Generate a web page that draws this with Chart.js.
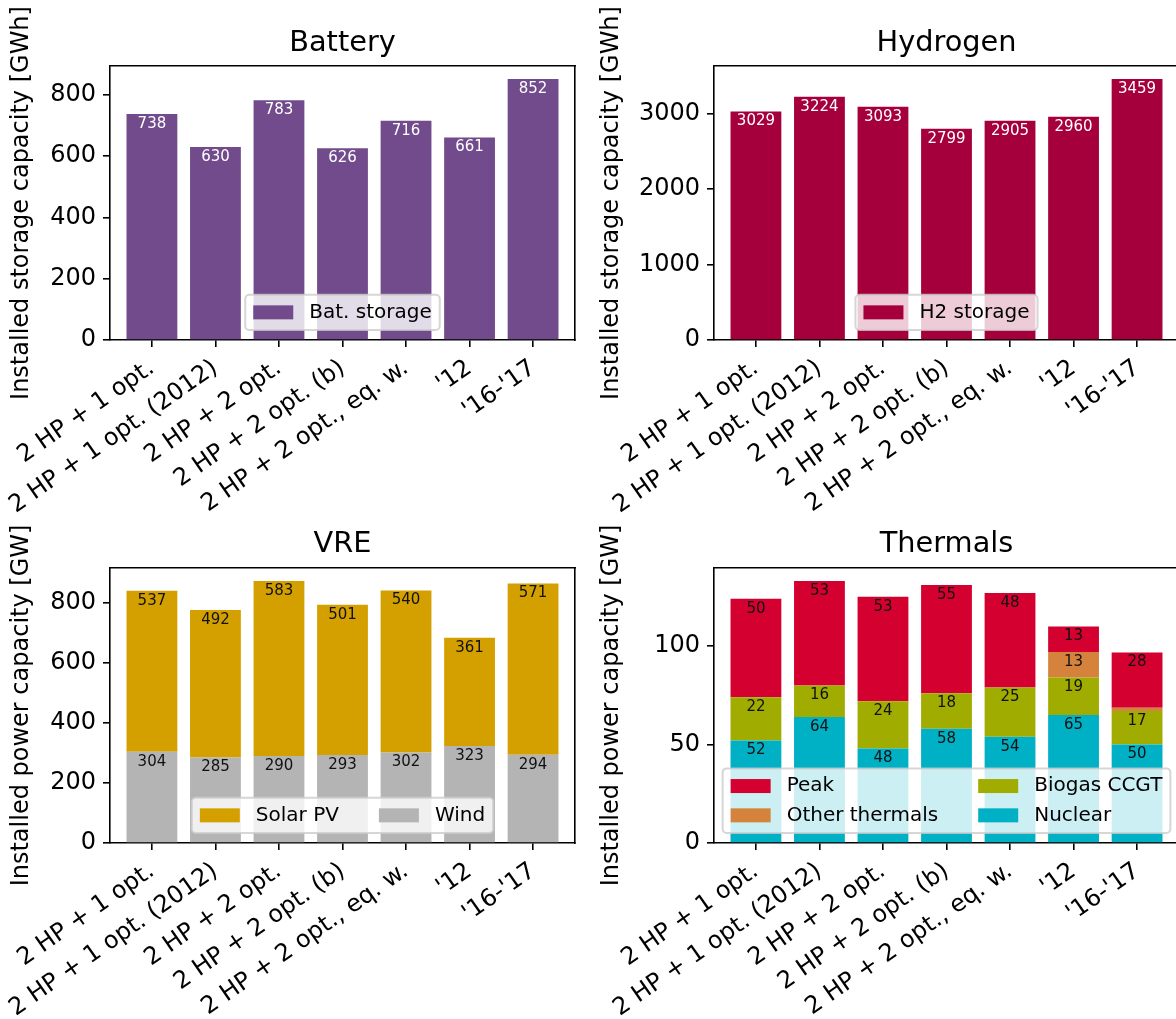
<!DOCTYPE html>
<html>
<head>
<meta charset="utf-8">
<script src="https://cdn.jsdelivr.net/npm/chart.js@4.4.0/dist/chart.umd.min.js"></script>
<style>
  html, body { margin: 0; padding: 0; background: #fff; overflow: hidden; width: 1176px; height: 1019px; }
  canvas { position: absolute; }
</style>
</head>
<body>
<canvas id="batteryChart" width="590" height="520" style="left:0px;top:0px"></canvas>
<canvas id="hydrogenChart" width="600" height="520" style="left:590px;top:0px"></canvas>
<canvas id="vreChart" width="590" height="519" style="left:0px;top:500px"></canvas>
<canvas id="thermalChart" width="600" height="519" style="left:590px;top:500px"></canvas>
<script>
// scenario names on the x axis
const scenarios = ["2 HP + 1 opt.", "2 HP + 1 opt. (2012)", "2 HP + 2 opt.", "2 HP + 2 opt. (b)",
  "2 HP + 2 opt., eq. w.", "'12", "'16-'17"];

// storage capacity [GWh]
const batStorage = [738, 630, 783, 626, 716, 661, 852];
const h2Storage = [3029, 3224, 3093, 2799, 2905, 2960, 3459];

// VRE capacity [GW]
const wind = [304, 285, 290, 293, 302, 323, 294];
const solarPV = [537, 492, 583, 501, 540, 361, 571];

// thermal capacity [GW]
const nuclear = [52, 64, 48, 58, 54, 65, 50];
const biogasCCGT = [22, 16, 24, 18, 25, 19, 17];
const otherThermals = [0, 0, 0, 0, 0, 13, 1.7];
const peak = [50, 53, 53, 55, 48, 13, 28];

// y tick values
const batTicks = [0, 200, 400, 600, 800];
const h2Ticks = [0, 1000, 2000, 3000];
const vreTicks = [0, 200, 400, 600, 800];
const thermalTicks = [0, 50, 100];

Chart.defaults.font.family = "'DejaVu Sans', sans-serif";
Chart.defaults.color = "#000";

// numbers written inside the bars, just under the top of each segment
const barLabels = {
  id: "barLabels",
  afterDatasetsDraw(chart, args, opts) {
    const ctx = chart.ctx;
    ctx.save();
    ctx.font = "15px 'DejaVu Sans'";
    ctx.fillStyle = opts.color;
    ctx.textAlign = "center";
    ctx.textBaseline = "middle";
    chart.data.datasets.forEach((ds, i) => {
      chart.getDatasetMeta(i).data.forEach((bar, j) => {
        const v = ds.data[j].y;
        if (v < 5) return; // tiny slivers get no number
        ctx.fillText(Math.round(v), bar.x, bar.y + 10);
      });
    });
    ctx.restore();
  },
};

// matplotlib-like legend box, lower center of the plot
const boxLegend = {
  id: "boxLegend",
  afterDatasetsDraw(chart, args, opts) {
    const ctx = chart.ctx;
    const area = chart.chartArea;
    const fs = 20;
    const items = chart.data.datasets.slice().reverse();
    const ncol = opts.ncol || 1;
    const nrow = Math.ceil(items.length / ncol);
    const pad = 0.4 * fs, hl = 2 * fs, hh = 0.7 * fs, htp = 0.8 * fs, ls = 0.5 * fs, cs = 2 * fs, rowH = 19.3;
    ctx.save();
    ctx.font = fs + "px 'DejaVu Sans'";
    const colW = [];
    for (let c = 0; c < ncol; c++) {
      let w = 0;
      for (let r = 0; r < nrow; r++) {
        const it = items[c * nrow + r];
        if (it) w = Math.max(w, ctx.measureText(it.label).width);
      }
      colW.push(hl + htp + w);
    }
    const boxW = 2 * pad + colW.reduce((a, b) => a + b, 0) + (ncol - 1) * cs;
    const boxH = 2 * pad + nrow * rowH + (nrow - 1) * ls;
    const x0 = (area.left + area.right) / 2 - boxW / 2;
    const y0 = area.bottom - 0.5 * fs - boxH;
    const rad = 4;
    ctx.beginPath();
    ctx.moveTo(x0 + rad, y0);
    ctx.arcTo(x0 + boxW, y0, x0 + boxW, y0 + boxH, rad);
    ctx.arcTo(x0 + boxW, y0 + boxH, x0, y0 + boxH, rad);
    ctx.arcTo(x0, y0 + boxH, x0, y0, rad);
    ctx.arcTo(x0, y0, x0 + boxW, y0, rad);
    ctx.closePath();
    ctx.fillStyle = "rgba(255,255,255,0.8)";
    ctx.fill();
    ctx.strokeStyle = "rgba(204,204,204,0.8)";
    ctx.lineWidth = 2;
    ctx.stroke();
    let cx = x0 + pad;
    for (let c = 0; c < ncol; c++) {
      for (let r = 0; r < nrow; r++) {
        const it = items[c * nrow + r];
        if (!it) continue;
        const cy = y0 + pad + r * (rowH + ls) + rowH / 2;
        ctx.fillStyle = it.backgroundColor;
        ctx.fillRect(cx, cy - hh / 2, hl, hh);
        ctx.fillStyle = "#000";
        ctx.textAlign = "left";
        ctx.textBaseline = "middle";
        ctx.fillText(it.label, cx + hl + htp, cy);
      }
      cx += colW[c] + cs;
    }
    ctx.restore();
  },
};

const spine = { display: true, color: "#000", width: 1.6 };
const tickMarks = { display: true, offset: false, drawOnChartArea: false, drawTicks: true, tickLength: 7, color: "#000", lineWidth: 1.6 };

function makeChart(id, p) {
  return new Chart(document.getElementById(id), {
    type: "bar",
    data: {
      datasets: p.series.map((s) => ({
        label: s.label,
        data: s.values.map((v, i) => ({ x: i, y: v })),
        backgroundColor: s.color,
        xAxisID: "x",
        yAxisID: "y",
        barPercentage: 0.8,
        categoryPercentage: 1.0,
      })),
    },
    options: {
      responsive: false,
      animation: false,
      devicePixelRatio: 1,
      layout: { padding: { left: 0, top: 0, right: p.padRight, bottom: 0 } },
      plugins: {
        legend: { display: false },
        tooltip: { enabled: false },
        barLabels: { color: p.labelColor },
        boxLegend: { ncol: p.ncol },
      },
      scales: {
        x: {
          type: "linear",
          position: "bottom",
          min: -0.66,
          max: 6.66,
          offset: false,
          stacked: true,
          z: 1,
          afterBuildTicks: (axis) => {
            axis.ticks = scenarios.map((s, i) => ({ value: i }));
          },
          afterFit: (axis) => {
            axis.height = p.xHeight;
          },
          ticks: {
            autoSkip: false,
            minRotation: 35,
            maxRotation: 35,
            padding: 7,
            font: { size: 24 },
            callback: (v) => scenarios[v],
          },
          grid: tickMarks,
          border: spine,
        },
        y: {
          type: "linear",
          position: "left",
          min: 0,
          max: p.yMax,
          stacked: true,
          z: 1,
          afterBuildTicks: (axis) => {
            axis.ticks = p.yTicks.map((v) => ({ value: v }));
          },
          afterFit: (axis) => {
            axis.width = p.yWidth;
          },
          ticks: {
            padding: 7,
            font: { size: 24 },
            callback: (v) => String(v),
          },
          grid: tickMarks,
          border: spine,
          title: { display: true, text: p.yTitle, font: { size: 24 }, padding: { top: 7, bottom: 0 } },
        },
        // top and right axes only draw the frame (and the top one carries the title)
        xTop: {
          type: "linear",
          position: "top",
          min: 0,
          max: 1,
          offset: false,
          z: 1,
          afterFit: (axis) => {
            axis.height = p.topHeight;
          },
          ticks: { display: false },
          grid: { display: false, drawTicks: false },
          border: spine,
          title: { display: true, text: p.title, font: { size: 28.8 }, padding: { top: p.titlePad, bottom: 0 } },
        },
        yRight: {
          type: "linear",
          position: "right",
          min: 0,
          max: 1,
          z: 1,
          afterFit: (axis) => {
            axis.width = 0;
          },
          ticks: { display: false },
          grid: { display: false, drawTicks: false },
          border: spine,
        },
      },
    },
    plugins: [barLabels, boxLegend],
  });
}

const batteryChart = makeChart("batteryChart", {
  title: "Battery",
  yTitle: "Installed storage capacity [GWh]",
  series: [{ label: "Bat. storage", values: batStorage, color: "#714b8b" }],
  yMax: 852 * 1.05, yTicks: batTicks, yWidth: 110, padRight: 15, xHeight: 180, topHeight: 66, titlePad: 26,
  labelColor: "#ffffff", ncol: 1,
});

const hydrogenChart = makeChart("hydrogenChart", {
  title: "Hydrogen",
  yTitle: "Installed storage capacity [GWh]",
  series: [{ label: "H2 storage", values: h2Storage, color: "#a6003c" }],
  yMax: 3459 * 1.05, yTicks: h2Ticks, yWidth: 124, padRight: 11, xHeight: 180, topHeight: 66, titlePad: 26,
  labelColor: "#ffffff", ncol: 1,
});

const vreChart = makeChart("vreChart", {
  title: "VRE",
  yTitle: "Installed power capacity [GW]",
  series: [
    { label: "Wind", values: wind, color: "#b4b4b4" },
    { label: "Solar PV", values: solarPV, color: "#d4a000" },
  ],
  yMax: 873 * 1.05, yTicks: vreTicks, yWidth: 110, padRight: 15, xHeight: 176, topHeight: 68, titlePad: 27,
  labelColor: "#111111", ncol: 2,
});

const thermalChart = makeChart("thermalChart", {
  title: "Thermals",
  yTitle: "Installed power capacity [GW]",
  series: [
    { label: "Nuclear", values: nuclear, color: "#00b0c4" },
    { label: "Biogas CCGT", values: biogasCCGT, color: "#a0ac00" },
    { label: "Other thermals", values: otherThermals, color: "#d4823c" },
    { label: "Peak", values: peak, color: "#d40030" },
  ],
  yMax: 133 * 1.05, yTicks: thermalTicks, yWidth: 124, padRight: 11, xHeight: 176, topHeight: 68, titlePad: 27,
  labelColor: "#111111", ncol: 2,
});
</script>
</body>
</html>
